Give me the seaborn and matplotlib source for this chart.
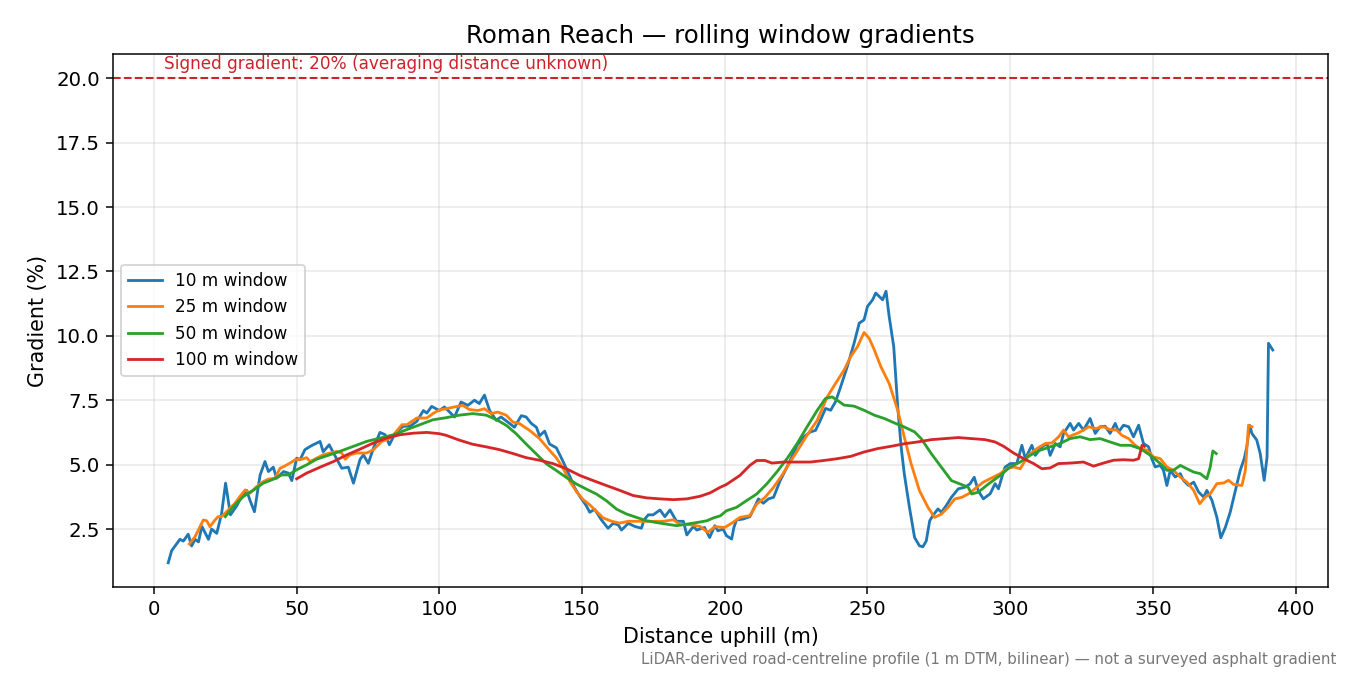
import pandas as pd
import matplotlib
matplotlib.use("Agg")
import matplotlib.pyplot as plt
import seaborn as sns

# ── Data ──────────────────────────────────────────────────────────────────────
dist_10 = [5.0, 6.2, 9.1, 10.3, 12.0, 13.2, 14.4, 15.6, 16.8, 19.1, 20.2, 22.0, 23.7, 25.1, 26.8,
           29.0, 30.7, 32.5, 33.6, 35.2, 37.2, 38.9, 40.1, 41.8, 43.0, 45.4, 47.1, 48.3, 50.0, 51.2,
           52.9, 55.1, 58.2, 59.3, 61.4, 62.9, 65.8, 68.1, 69.9, 72.2, 73.4, 75.1, 76.9, 79.2, 81.0,
           82.5, 84.5, 87.4, 89.7, 92.1, 94.4, 95.6, 97.3, 100.0, 101.8, 104.1, 105.3, 107.6, 110.0,
           112.3, 114.0, 115.8, 117.6, 119.9, 121.6, 124.0, 126.3, 128.7, 130.4, 132.2, 134.0, 135.1,
           136.9, 138.6, 141.0, 143.3, 145.7, 147.4, 149.2, 151.5, 152.7, 154.4, 156.8, 159.1, 160.9,
           162.7, 163.8, 166.2, 168.5, 170.8, 171.7, 173.2, 174.9, 177.3, 179.0, 180.8, 183.1, 185.5,
           186.7, 189.0, 190.2, 192.9, 194.7, 196.5, 197.6, 199.4, 200.6, 202.4, 203.2, 204.1, 206.5,
           208.8, 211.8, 213.5, 215.3, 217.1, 219.4, 221.2, 222.9, 225.3, 227.6, 230.0, 231.8, 233.5,
           235.3, 237.1, 238.8, 240.6, 242.9, 245.3, 247.1, 248.8, 250.0, 251.8, 252.9, 254.1, 255.3,
           256.5, 257.6, 259.2, 260.6, 261.8, 262.9, 264.7, 266.5, 268.2, 269.4, 270.6, 271.8, 272.9,
           274.7, 275.9, 277.6, 279.4, 281.8, 284.1, 285.9, 287.4, 288.8, 290.6, 293.0, 294.7, 295.9,
           297.1, 298.2, 300.0, 302.3, 304.1, 305.3, 307.6, 308.8, 311.1, 312.9, 314.0, 315.8, 317.5,
           318.7, 321.0, 322.2, 324.0, 325.7, 328.0, 329.8, 331.5, 333.3, 335.0, 336.8, 338.0, 339.7,
           341.5, 343.2, 345.0, 346.7, 348.5, 349.6, 350.8, 352.6, 353.7, 354.9, 356.1, 357.8, 359.6,
           360.7, 362.5, 364.3, 366.0, 367.8, 368.9, 370.7, 372.4, 373.8, 375.4, 377.1, 378.9, 380.6,
           382.0, 382.9, 383.9, 384.7, 386.4, 387.6, 389.0, 390.0, 390.5, 392.0]
grad_10 = [1.19, 1.66, 2.10, 2.03, 2.30, 1.84, 2.10, 2.00, 2.60, 2.10, 2.50, 2.33, 3.10, 4.28, 3.05,
           3.40, 3.76, 4.00, 3.63, 3.17, 4.60, 5.12, 4.73, 4.90, 4.47, 4.73, 4.67, 4.38, 5.25, 5.19,
           5.58, 5.73, 5.90, 5.50, 5.77, 5.45, 4.86, 4.90, 4.28, 5.20, 5.38, 5.05, 5.64, 6.25, 6.16,
           5.77, 6.22, 6.49, 6.49, 6.68, 7.10, 7.00, 7.26, 7.10, 7.24, 6.98, 6.85, 7.43, 7.30,
           7.50, 7.37, 7.70, 7.10, 6.72, 6.85, 6.65, 6.45, 6.90, 6.85, 6.60, 6.45, 6.12,
           6.30, 5.80, 5.65, 5.13, 4.55, 4.10, 3.77, 3.40, 3.15, 3.27, 2.85, 2.53, 2.72,
           2.66, 2.46, 2.72, 2.60, 2.53, 2.85, 3.05, 3.05, 3.24, 2.98, 3.24, 2.80, 2.80,
           2.27, 2.60, 2.46, 2.56, 2.17, 2.63, 2.43, 2.50, 2.24, 2.11, 2.56, 2.85, 2.89,
           2.98, 3.67, 3.50, 3.67, 3.73, 4.38, 4.77, 5.16, 5.75, 6.07, 6.27, 6.33, 6.72,
           7.18, 7.11, 7.44, 8.02, 8.80, 9.71, 10.49, 10.62, 11.14, 11.40, 11.66, 11.53, 11.40,
           11.73, 10.75, 9.58, 7.24, 5.68, 4.64, 3.34, 2.17, 1.85, 1.81, 2.04, 2.82, 3.02,
           3.28, 3.15, 3.41, 3.73, 4.06, 4.12, 4.25, 4.51, 3.99, 3.67, 3.87, 4.26, 4.06,
           4.52, 4.90, 5.04, 5.04, 5.75, 5.23, 5.75, 5.36, 5.69, 5.82, 5.36, 5.82, 5.69,
           6.21, 6.60, 6.34, 6.60, 6.34, 6.79, 6.21, 6.47, 6.49, 6.21, 6.60, 6.27, 6.53,
           6.47, 6.08, 6.53, 5.82, 5.69, 5.23, 4.91, 4.97, 4.78, 4.19, 4.78, 4.52, 4.65,
           4.39, 4.19, 4.32, 3.94, 3.74, 4.00, 3.61, 2.96, 2.16, 2.57, 3.16, 4.00, 4.78,
           5.23, 5.69, 6.53, 6.21, 5.95, 5.43, 4.39, 5.30, 9.71, 9.45]

dist_25 = [12.4, 14.4, 17.3, 18.5, 19.6, 21.4, 22.5, 23.7, 25.4, 28.4, 30.1, 32.0, 33.6, 36.0, 38.3,
           40.1, 42.4, 44.2, 45.9, 47.7, 49.5, 51.8, 53.5, 54.7, 57.0, 59.3, 61.7, 64.0, 65.8, 67.0,
           68.7, 71.0, 74.5, 76.9, 79.8, 82.2, 84.0, 86.9, 88.6, 92.1, 95.6, 98.0, 100.0, 102.3, 105.3,
           108.2, 110.5, 113.5, 115.8, 118.1, 120.5, 123.4, 125.8, 128.1, 131.6, 135.1, 138.1, 141.0,
           143.3, 145.7, 148.0, 150.4, 152.7, 155.1, 157.4, 160.4, 163.2, 166.2, 169.1, 172.6, 174.9,
           178.5, 182.0, 184.3, 187.8, 191.3, 194.1, 196.5, 200.0, 202.9, 205.3, 208.8, 211.2, 214.1,
           217.1, 220.0, 222.9, 225.9, 228.8, 232.4, 235.9, 238.8, 241.8, 244.1, 246.5, 248.8, 250.6,
           252.4, 254.7, 257.6, 260.6, 262.9, 265.3, 268.2, 271.2, 273.5, 275.9, 278.2, 280.6, 283.0,
           285.3, 287.6, 290.6, 292.9, 296.5, 298.8, 301.2, 303.5, 306.4, 309.3, 312.3, 314.6, 317.0,
           318.7, 320.4, 323.4, 325.7, 327.5, 329.8, 332.7, 335.0, 337.4, 339.1, 341.5, 343.8, 345.6,
           347.9, 350.2, 352.6, 354.9, 357.2, 359.6, 361.9, 364.3, 366.4, 368.3, 370.1, 372.4, 374.8,
           376.5, 378.3, 381.2, 382.4, 383.5, 384.7]
grad_25 = [1.92, 2.20, 2.85, 2.82, 2.59, 2.85, 2.98, 2.98, 3.17, 3.50, 3.76, 4.02, 3.89, 4.15, 4.34,
           4.44, 4.47, 4.86, 4.95, 5.06, 5.19, 5.21, 5.27, 5.12, 5.25, 5.38, 5.45, 5.51, 5.45, 5.21,
           5.38, 5.45, 5.45, 5.58, 5.90, 6.00, 6.16, 6.55, 6.55, 6.81, 6.81, 7.00, 7.12, 7.17, 7.24,
           7.30, 7.14, 7.10, 7.17, 6.98, 7.04, 6.92, 6.65, 6.59, 6.33, 6.01, 5.62, 5.26,
           4.87, 4.35, 3.96, 3.64, 3.44, 3.18, 2.93, 2.80, 2.73, 2.80, 2.80, 2.80, 2.80,
           2.80, 2.86, 2.67, 2.67, 2.60, 2.37, 2.59, 2.56, 2.76, 2.95, 3.02, 3.47, 3.73,
           4.12, 4.58, 5.10, 5.62, 6.14, 6.72, 7.63, 8.15, 8.67, 9.19, 9.58, 10.13, 9.90,
           9.45, 8.80, 8.15, 7.11, 6.07, 5.03, 3.99, 3.34, 2.95, 3.08, 3.34, 3.67, 3.73,
           3.86, 4.06, 4.32, 4.45, 4.65, 4.84, 4.91, 4.84, 5.36, 5.62, 5.82, 5.84, 6.08,
           6.34, 6.08, 6.21, 6.34, 6.47, 6.40, 6.47, 6.36, 6.34, 6.14, 6.01, 5.75, 5.62,
           5.56, 5.30, 5.23, 4.91, 4.78, 4.52, 4.32, 4.00, 3.48, 3.74, 3.87, 4.26, 4.29,
           4.39, 4.23, 4.19, 4.78, 6.53, 6.47]

dist_50 = [25.0, 27.8, 31.3, 35.0, 38.3, 42.0, 44.8, 47.1, 50.0, 53.5, 57.0, 60.5, 65.0, 69.9, 74.5,
           79.2, 84.0, 88.6, 93.2, 97.7, 102.3, 107.0, 111.7, 116.4, 119.9, 123.4, 126.9, 130.4, 134.0,
           137.5, 141.0, 144.5, 148.0, 151.5, 155.0, 158.5, 162.1, 165.6, 169.1, 172.6, 176.1, 179.6,
           183.1, 186.7, 190.2, 193.7, 196.0, 198.4, 200.6, 204.1, 207.6, 211.2, 214.7, 218.2, 221.8,
           225.3, 228.8, 232.4, 235.3, 237.6, 239.4, 241.8, 245.3, 248.8, 252.4, 255.9, 259.4, 262.9,
           266.5, 268.8, 272.4, 275.9, 279.4, 282.4, 285.3, 286.5, 288.8, 292.4, 296.5, 300.0, 303.5,
           307.0, 310.5, 314.0, 317.5, 321.0, 324.5, 328.0, 331.5, 335.0, 338.6, 342.1, 345.6, 349.1,
           352.6, 354.9, 357.2, 359.6, 361.9, 364.3, 366.6, 368.9, 370.1, 371.0, 372.2]
grad_50 = [2.98, 3.37, 3.76, 4.02, 4.28, 4.44, 4.60, 4.60, 4.80, 4.99, 5.21, 5.34, 5.51, 5.71, 5.90,
           6.03, 6.16, 6.36, 6.55, 6.74, 6.82, 6.92, 6.98, 6.92, 6.75, 6.53, 6.20, 5.80, 5.41,
           5.03, 4.77, 4.50, 4.25, 4.05, 3.86, 3.60, 3.27, 3.08, 2.95, 2.82, 2.75, 2.69,
           2.63, 2.69, 2.75, 2.82, 2.93, 3.01, 3.21, 3.34, 3.60, 3.86, 4.25, 4.71, 5.23,
           5.81, 6.46, 7.11, 7.57, 7.63, 7.50, 7.31, 7.27, 7.11, 6.92, 6.79, 6.62, 6.46,
           6.27, 6.01, 5.42, 4.90, 4.38, 4.25, 4.12, 3.86, 3.93, 4.25, 4.58, 4.91, 5.10,
           5.36, 5.56, 5.69, 5.82, 6.01, 6.08, 5.97, 6.01, 5.88, 5.75, 5.75, 5.62, 5.36,
           5.04, 4.78, 4.78, 4.97, 4.84, 4.71, 4.65, 4.45, 4.91, 5.53, 5.43]

dist_100 = [50.0, 53.5, 58.2, 62.9, 67.6, 72.2, 76.9, 81.5, 86.2, 90.9, 95.6, 100.0, 102.3, 107.0,
            111.7, 116.4, 121.1, 125.8, 130.4, 135.1, 139.8, 144.5, 149.2, 153.9, 158.5, 163.2, 167.9,
            172.6, 177.3, 182.0, 186.7, 191.3, 194.8, 198.4, 200.6, 205.3, 208.8, 211.2, 214.1, 216.5,
            220.6, 225.3, 230.0, 234.7, 239.4, 244.1, 248.8, 253.5, 258.2, 262.9, 267.6, 272.4, 277.1,
            281.8, 286.5, 291.2, 294.7, 297.7, 301.2, 304.7, 308.2, 311.1, 314.0, 316.9, 321.0, 325.7,
            329.2, 332.7, 336.2, 339.7, 343.2, 345.0, 346.2, 347.0]
grad_100 = [4.45, 4.67, 4.90, 5.12, 5.38, 5.60, 5.84, 6.03, 6.16, 6.22, 6.25, 6.20, 6.14, 5.95,
            5.79, 5.69, 5.58, 5.43, 5.27, 5.17, 5.04, 4.84, 4.58, 4.38, 4.19, 4.00, 3.80,
            3.71, 3.67, 3.64, 3.67, 3.77, 3.90, 4.12, 4.23, 4.58, 4.97, 5.16, 5.16, 5.06,
            5.10, 5.10, 5.10, 5.16, 5.23, 5.32, 5.49, 5.62, 5.71, 5.81, 5.88, 5.97, 6.01,
            6.05, 6.01, 5.97, 5.88, 5.71, 5.45, 5.23, 5.04, 4.84, 4.87, 5.04, 5.06, 5.10,
            4.94, 5.06, 5.17, 5.19, 5.17, 5.23, 5.75, 5.71]

window_labels = ["10 m window", "25 m window", "50 m window", "100 m window"]
window_colors = ["#1f77b4", "#ff7f0e", "#2ca02c", "#d62728"]
signed_gradient = 20.0

# build a long table for seaborn
frames = []
for label, xs, ys in zip(window_labels,
                         [dist_10, dist_25, dist_50, dist_100],
                         [grad_10, grad_25, grad_50, grad_100]):
    frames.append(pd.DataFrame({"distance": xs, "gradient": ys, "window": label}))
df = pd.concat(frames, ignore_index=True)

# ── Plot ──────────────────────────────────────────────────────────────────────
fig, ax = plt.subplots(figsize=(10, 5), dpi=135)
fig.subplots_adjust(left=0.0837, right=0.9837, bottom=0.1304, top=0.92)

sns.lineplot(
    data=df, x="distance", y="gradient", hue="window",
    hue_order=window_labels, palette=dict(zip(window_labels, window_colors)),
    estimator=None, sort=False, linewidth=1.5, ax=ax
)

# signed road-sign gradient as a reference line
ax.axhline(signed_gradient, color="#cc2229", linestyle="--", linewidth=1.1)
ax.text(3.5, signed_gradient + 0.22, "Signed gradient: 20% (averaging distance unknown)",
        color="#cc2229", fontsize=9, ha="left", va="bottom")

ax.set_xlim(-14.35, 411.35)
ax.set_ylim(0.25, 20.94)
ax.set_title("Roman Reach \u2014 rolling window gradients", fontsize=13)
ax.set_xlabel("Distance uphill (m)", fontsize=11)
ax.set_ylabel("Gradient (%)", fontsize=11)
ax.tick_params(labelsize=10.5)
ax.grid(True, alpha=0.3)
ax.legend(loc="center left", fontsize=9)

fig.text(0.99, 0.012,
         "LiDAR-derived road-centreline profile (1 m DTM, bilinear) \u2014 not a surveyed asphalt gradient",
         ha="right", va="bottom", fontsize=8, color="#777777")

fig.savefig("out.png", dpi=135)
